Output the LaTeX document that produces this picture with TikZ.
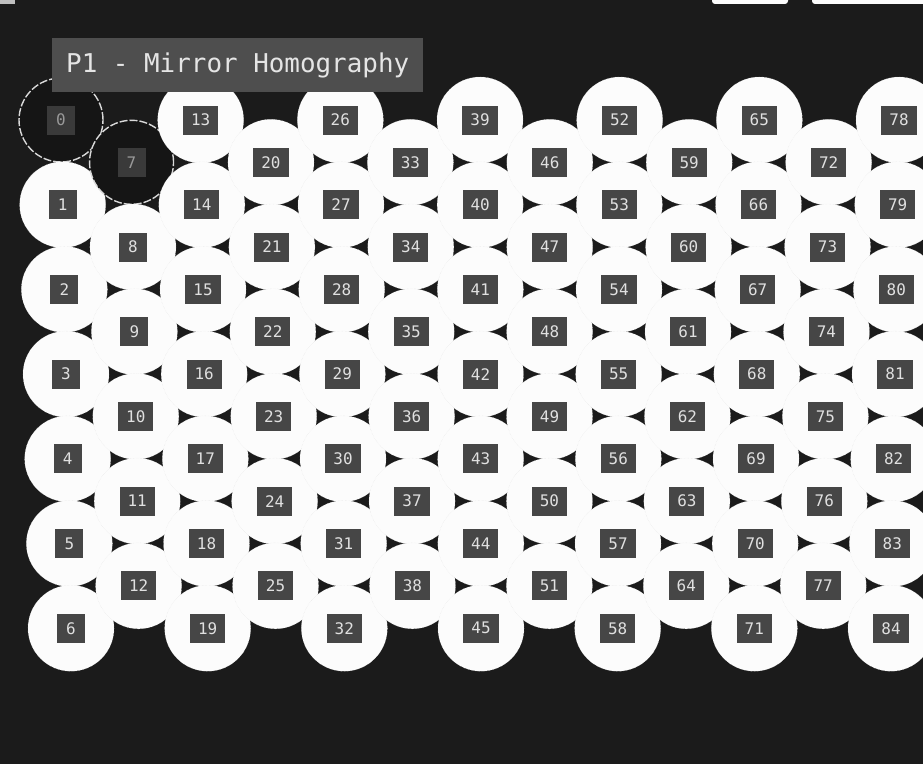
\documentclass[tikz,border=0pt]{standalone}
\usepackage{fontspec}
\setmonofont{DejaVu Sans Mono}
\usetikzlibrary{positioning}

\definecolor{bgdark}{HTML}{1B1B1B}
\definecolor{spotwhite}{HTML}{FCFCFC}
\definecolor{tagfill}{HTML}{464646}
\definecolor{tagtext}{HTML}{E0E0E0}
\definecolor{ghostfill}{HTML}{151515}
\definecolor{ghosttag}{HTML}{3A3A3A}
\definecolor{titlefill}{HTML}{4E4E4E}

\begin{document}
\begin{tikzpicture}[
    x=1bp, y=-1bp,
    every node/.style={font=\ttfamily},
    spot/.style={circle, fill=spotwhite, draw=black!10, line width=0.4bp, densely dotted, minimum size=86bp, inner sep=0pt},
    ghost/.style={circle, fill=ghostfill, draw=white!85!black, line width=1.4bp, dash pattern=on 8bp off 2bp, minimum size=84bp, inner sep=0pt},
    tag/.style={rectangle, fill=tagfill, text=tagtext, font=\ttfamily\fontsize{16}{16}\selectfont, minimum width=28bp, minimum height=29bp, inner xsep=8bp, inner ysep=0pt},
    ghosttag/.style={tag, fill=ghosttag, text=white!60!black},
    titlebox/.style={rectangle, fill=titlefill, text=white!90!black, font=\ttfamily\fontsize{26}{26}\selectfont, minimum width=371bp, minimum height=54bp, inner sep=0pt}
]

% canvas
\useasboundingbox (0,0) rectangle (923,764);
\fill[bgdark] (0,0) rectangle (923,764);

% bits cut by the top edge
\fill[white!75!black] (0,0) rectangle (15,4);
\fill[spotwhite, rounded corners=3bp] (712,-6) rectangle (788,4);
\fill[spotwhite, rounded corners=3bp] (812,-6) rectangle (930,4);

% ============ GRID OF SPOTS ============
% 13 columns, even ones hold 7 spots, odd ones 6
\foreach \c in {0,...,12}{
    \pgfmathtruncatemacro\odd{mod(\c,2)}
    \pgfmathtruncatemacro\nrow{7-\odd}
    \pgfmathtruncatemacro\first{(\c-\odd)/2*13+7*\odd}
    \foreach \r in {1,...,\nrow}{
        \pgfmathsetmacro\py{120+42.3*\odd+84.7*(\r-1)}
        \pgfmathsetmacro\tt{(\py-120)/508}
        \pgfmathsetmacro\px{61+10*\tt+(838-18*\tt)*\c/12}
        \pgfmathtruncatemacro\idx{\first+\r-1}
        \ifnum\idx=0
            \node[ghost] (c\idx) at (\px,\py) {};
            \node[ghosttag] (t\idx) at (c\idx) {\idx};
        \else\ifnum\idx=7
            \node[ghost] (c\idx) at (\px,\py) {};
            \node[ghosttag] (t\idx) at (c\idx) {\idx};
        \else
            \node[spot] (c\idx) at (\px,\py) {};
            \node[tag] (t\idx) at (c\idx) {\idx};
        \fi\fi
    }
}

% ============ TITLE ============
\node[titlebox, anchor=north west] (title) at (52,38) {P1 - Mirror Homography};

\end{tikzpicture}
\end{document}
